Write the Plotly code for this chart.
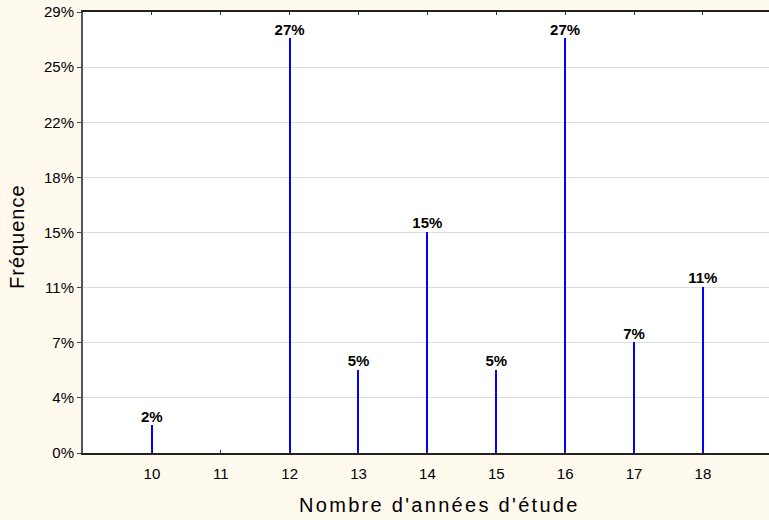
import plotly.graph_objects as go

years = [10, 12, 13, 14, 15, 16, 17, 18]
freq = [1/55, 15/55, 3/55, 8/55, 3/55, 15/55, 4/55, 6/55]
bar_labels = ["2%", "27%", "5%", "15%", "5%", "27%", "7%", "11%"]
x_ticks = [10, 11, 12, 13, 14, 15, 16, 17, 18]
y_tickvals = [i * 0.29 / 8 for i in range(9)]
y_ticktext = ["0%", "4%", "7%", "11%", "15%", "18%", "22%", "25%", "29%"]
x_title = "Nombre d'années d'étude"
y_title = "Fréquence"

FONT = "Liberation Sans, Arial, sans-serif"

fig = go.Figure()
fig.add_trace(go.Bar(
    x=years, y=freq, width=0.016,
    marker=dict(color="#0000FF", line=dict(width=0)),
    hoverinfo="skip",
))
fig.add_trace(go.Scatter(
    x=years, y=freq, mode="text",
    text=["<b>" + t + "</b>" for t in bar_labels],
    textposition="top center", cliponaxis=False,
    textfont=dict(family=FONT, size=15, color="black"),
    hoverinfo="skip",
))

fig.update_layout(
    width=769, height=520,
    margin=dict(l=83, r=0, t=12, b=67),
    paper_bgcolor="#FFF9EE",
    plot_bgcolor="white",
    showlegend=False,
    font=dict(family=FONT, color="black"),
    bargap=0,
    annotations=[
        dict(text='<span style="letter-spacing:2.3px">' + x_title + '</span>',
             xref="paper", yref="paper", x=(439 - 83) / 686, y=-(505 - 453) / 441,
             xanchor="center", yanchor="middle", showarrow=False,
             font=dict(family=FONT, size=20, color="black")),
        dict(text='<span style="letter-spacing:1px">' + y_title + '</span>',
             xref="paper", yref="paper", x=-(83 - 17) / 686, y=(453 - 237) / 441,
             xanchor="center", yanchor="middle", showarrow=False, textangle=-90,
             font=dict(family=FONT, size=20, color="black")),
    ],
)
fig.update_xaxes(
    range=[9, 18.96], tickvals=x_ticks, ticks="inside", ticklen=3,
    tickcolor="#333", showline=True, linecolor="#222", linewidth=2,
    mirror="ticks", showgrid=False, zeroline=False,
    tickfont=dict(size=15), ticklabelstandoff=6,
)
fig.update_yaxes(
    range=[0, 0.29], tickvals=y_tickvals, ticktext=y_ticktext,
    ticks="outside", ticklen=4, tickcolor="#444",
    showline=True, linecolor="#555", linewidth=2,
    showgrid=True, gridcolor="#DDDDDD", gridwidth=1, zeroline=False,
    tickfont=dict(size=15),
)
fig.write_html("out.html", config={"displayModeBar": False},
               post_script="document.body.style.margin='0';document.body.style.overflow='hidden';")
